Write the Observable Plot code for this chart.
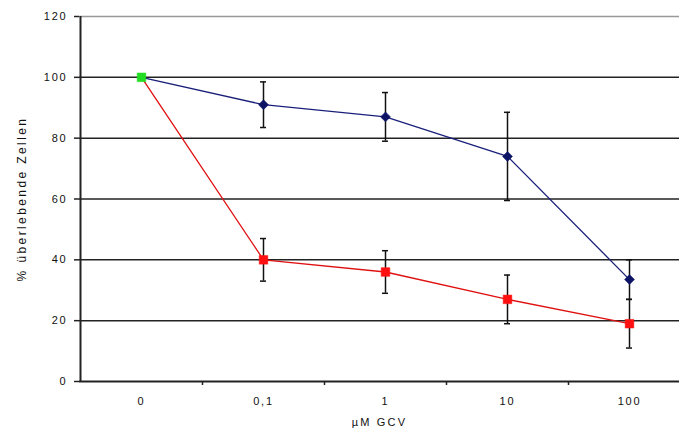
<!DOCTYPE html>
<html>
<head>
<meta charset="utf-8">
<script src="https://cdn.jsdelivr.net/npm/d3@7"></script>
<script src="https://cdn.jsdelivr.net/npm/@observablehq/plot@0.6"></script>
<style>
  html, body { margin: 0; padding: 0; background: #fff; }
  #chart svg { display: block; overflow: hidden; }
  #chart svg text { letter-spacing: 1.8px; }
  #chart svg g[aria-label="y-axis label"] text { font-size: 12px; letter-spacing: 2.4px; }
  #chart svg g[aria-label="x-axis label"] text { letter-spacing: 2.2px; }
</style>
</head>
<body>
<div id="chart"></div>
<script>
// Categories (µM GCV)
const categories = ["0", "0,1", "1", "10", "100"];
// Series A (blue, diamonds)
const blueValues = [100, 91, 87, 74, 33.5];
const blueErrors = [0, 7.5, 8, 14.5, 6.5];
// Series B (red, squares)
const redValues = [100, 40, 36, 27, 19];
const redErrors = [0, 7, 7, 8, 8];
// Y ticks
const yTicks = [0, 20, 40, 60, 80, 100, 120];

const blue = categories.map((c, i) => ({i, cat: c, v: blueValues[i], e: blueErrors[i]}));
const red = categories.map((c, i) => ({i, cat: c, v: redValues[i], e: redErrors[i]}));
const start = [{i: 0, v: blueValues[0]}];

const font = "Liberation Sans, Arial, sans-serif";
const ink = "#111";

const plot = Plot.plot({
  width: 679,
  height: 434,
  marginLeft: 79,
  marginRight: 0,
  marginTop: 16,
  marginBottom: 53,
  style: {fontFamily: font, fontSize: "11px", color: ink, background: "#fff", overflow: "hidden"},
  x: {type: "linear", domain: [-0.5, 4.5], range: [80, 690]},
  y: {domain: [0, 120]},
  marks: [
    Plot.ruleY(yTicks.filter(t => t > 0 && t < 120), {stroke: "#222", strokeWidth: 1.5}),
    Plot.ruleY([120], {stroke: "#999", strokeWidth: 1.5}),
    Plot.ruleY([0], {stroke: "#222", strokeWidth: 2}),
    Plot.ruleX([-0.5], {y1: 0, y2: 120, stroke: "#222", strokeWidth: 2}),
    Plot.axisY({
      ticks: yTicks, tickSize: 5, tickPadding: 7, stroke: "#222", strokeWidth: 1.5,
      label: "% überlebende Zellen", labelAnchor: "center", labelOffset: 62, labelArrow: "none",
      fontSize: 11
    }),
    Plot.axisX({
      ticks: d3.range(categories.length), tickFormat: i => categories[i], tickSize: 0, tickPadding: 16,
      label: "µM GCV", labelAnchor: "center", labelOffset: 44, labelArrow: "none", fontSize: 11
    }),
    Plot.axisX({ticks: [0.5, 1.5, 2.5, 3.5], tickFormat: () => "", tickSize: 4, stroke: "#222", strokeWidth: 1.5, label: null}),
    // error bars
    Plot.ruleX(blue.filter(d => d.e > 0), {x: "i", y1: d => d.v - d.e, y2: d => d.v + d.e, stroke: "#111", strokeWidth: 1.5}),
    Plot.ruleY(blue.filter(d => d.e > 0), {x1: "i", x2: "i", y: d => d.v - d.e, insetLeft: -3, insetRight: -3, stroke: "#111", strokeWidth: 1.5}),
    Plot.ruleY(blue.filter(d => d.e > 0), {x1: "i", x2: "i", y: d => d.v + d.e, insetLeft: -3, insetRight: -3, stroke: "#111", strokeWidth: 1.5}),
    Plot.ruleX(red.filter(d => d.e > 0), {x: "i", y1: d => d.v - d.e, y2: d => d.v + d.e, stroke: "#111", strokeWidth: 1.5}),
    Plot.ruleY(red.filter(d => d.e > 0), {x1: "i", x2: "i", y: d => d.v - d.e, insetLeft: -3, insetRight: -3, stroke: "#111", strokeWidth: 1.5}),
    Plot.ruleY(red.filter(d => d.e > 0), {x1: "i", x2: "i", y: d => d.v + d.e, insetLeft: -3, insetRight: -3, stroke: "#111", strokeWidth: 1.5}),
    // lines
    Plot.line(blue, {x: "i", y: "v", stroke: "#1a1f7a", strokeWidth: 1.3}),
    Plot.line(red, {x: "i", y: "v", stroke: "#e01010", strokeWidth: 1.3}),
    // markers
    Plot.dot(blue.slice(1), {x: "i", y: "v", symbol: "diamond2", r: 4.5, fill: "#0d1466", stroke: "#0d1466", strokeWidth: 0.5}),
    Plot.dot(red.slice(1), {x: "i", y: "v", symbol: "square2", r: 5.5, fill: "#ff1010", stroke: "#ff1010", strokeWidth: 0.5}),
    Plot.dot(start, {x: "i", y: "v", symbol: "square2", r: 5.5, fill: "#22dd22", stroke: "#22dd22", strokeWidth: 0.5})
  ]
});
document.getElementById("chart").appendChild(plot);
</script>
</body>
</html>
